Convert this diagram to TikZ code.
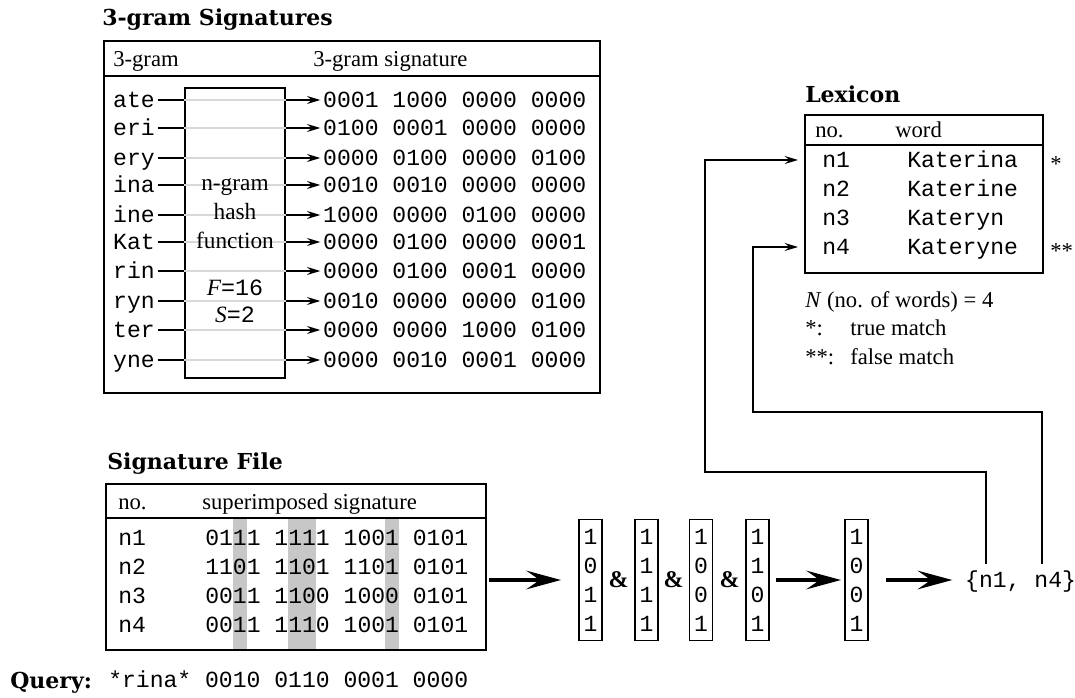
\documentclass[tikz,border=0pt]{standalone}
\usepackage{fontspec}
\setmainfont{Liberation Serif}
\newfontfamily\monofont{Liberation Mono}
\newfontfamily\headfont{DejaVu Serif}
\usetikzlibrary{arrows.meta}

\begin{document}
\begin{tikzpicture}[x=0.75pt,y=-0.75pt,
	mono_node/.style={font=\monofont\fontsize{17.3}{21.75}\selectfont,anchor=west,inner sep=0pt,text height=11.4pt,text depth=0pt},
	row_node/.style={mono_node,inner xsep=2pt},
	serif_node/.style={font=\fontsize{17}{21.75}\selectfont,anchor=west,inner sep=0pt,text height=11.4pt,text depth=0pt},
	title_node/.style={font=\headfont\bfseries\fontsize{16.5}{19}\selectfont,anchor=west,inner sep=0pt,text height=12pt,text depth=0pt},
	box_line/.style={line width=1.2pt},
	box_node/.style={draw,line width=1.2pt,inner sep=0pt},
	gray_line/.style={draw=black!15,line width=1pt},
	small_arrow/.style={line width=1pt,-{Stealth[length=10pt,width=6pt,inset=3.5pt]}},
	big_arrow/.style={line width=2.4pt,-{Stealth[length=26pt,width=14pt,inset=10pt]}},
	bit_col/.style={draw,line width=1.2pt,inner sep=0pt,minimum width=17.5pt,minimum height=90.75pt,align=center,font=\monofont\fontsize{17.3}{21.75}\selectfont},
	amp_node/.style={font=\bfseries\fontsize{18}{20}\selectfont,inner sep=0pt}]
	\useasboundingbox (0,0) rectangle (1075,698);

	\node[title_node] (t_gram) at (102,18) {3-gram Signatures};
	\draw[box_line] (104,41) rectangle (600,393);
	\draw[box_line] (104,76) -- (600,76);
	\node[serif_node] (h_gram) at (113,59) {3-gram};
	\node[serif_node] (h_sig) at (313,59) {3-gram signature};
	\node[box_node,minimum width=75pt,minimum height=217.5pt] (hash) at (235,233) {};

	\node[row_node] (g1) at (110.3,100) {ate};
	\node[row_node] (g2) at (110.3,128) {eri};
	\node[row_node] (g3) at (110.3,158) {ery};
	\node[row_node] (g4) at (110.3,185) {ina};
	\node[row_node] (g5) at (110.3,215) {ine};
	\node[row_node] (g6) at (110.3,242) {Kat};
	\node[row_node] (g7) at (110.3,271) {rin};
	\node[row_node] (g8) at (110.3,301) {ryn};
	\node[row_node] (g9) at (110.3,330) {ter};
	\node[row_node] (g10) at (110.3,360) {yne};

	\node[row_node] (s1) at (320.3,100) {0001 1000 0000 0000};
	\node[row_node] (s2) at (320.3,128) {0100 0001 0000 0000};
	\node[row_node] (s3) at (320.3,158) {0000 0100 0000 0100};
	\node[row_node] (s4) at (320.3,185) {0010 0010 0000 0000};
	\node[row_node] (s5) at (320.3,215) {1000 0000 0100 0000};
	\node[row_node] (s6) at (320.3,242) {0000 0100 0000 0001};
	\node[row_node] (s7) at (320.3,271) {0000 0100 0001 0000};
	\node[row_node] (s8) at (320.3,301) {0010 0000 0000 0100};
	\node[row_node] (s9) at (320.3,330) {0000 0000 1000 0100};
	\node[row_node] (s10) at (320.3,360) {0000 0010 0001 0000};

	\draw[box_line] (g1) -- (g1 -| hash.west) edge[gray_line] (s1 -| hash.east);
	\draw[box_line] (g2) -- (g2 -| hash.west) edge[gray_line] (s2 -| hash.east);
	\draw[box_line] (g3) -- (g3 -| hash.west) edge[gray_line] (s3 -| hash.east);
	\draw[box_line] (g4) -- (g4 -| hash.west) edge[gray_line] (s4 -| hash.east);
	\draw[box_line] (g5) -- (g5 -| hash.west) edge[gray_line] (s5 -| hash.east);
	\draw[box_line] (g6) -- (g6 -| hash.west) edge[gray_line] (s6 -| hash.east);
	\draw[box_line] (g7) -- (g7 -| hash.west) edge[gray_line] (s7 -| hash.east);
	\draw[box_line] (g8) -- (g8 -| hash.west) edge[gray_line] (s8 -| hash.east);
	\draw[box_line] (g9) -- (g9 -| hash.west) edge[gray_line] (s9 -| hash.east);
	\draw[box_line] (g10) -- (g10 -| hash.west) edge[gray_line] (s10 -| hash.east);
	\draw[small_arrow] (s1 -| hash.east) -- (s1);
	\draw[small_arrow] (s2 -| hash.east) -- (s2);
	\draw[small_arrow] (s3 -| hash.east) -- (s3);
	\draw[small_arrow] (s4 -| hash.east) -- (s4);
	\draw[small_arrow] (s5 -| hash.east) -- (s5);
	\draw[small_arrow] (s6 -| hash.east) -- (s6);
	\draw[small_arrow] (s7 -| hash.east) -- (s7);
	\draw[small_arrow] (s8 -| hash.east) -- (s8);
	\draw[small_arrow] (s9 -| hash.east) -- (s9);
	\draw[small_arrow] (s10 -| hash.east) -- (s10);

	\node[font=\fontsize{17.5}{21.75}\selectfont,align=center,inner sep=0pt] (hash_txt) at (235,214) {n-gram\\hash\\function};
	\node[font=\fontsize{17.5}{20.25}\selectfont,align=center,inner sep=0pt] (hash_par) at (235,301.5) {\textit{F}{\monofont =16}\\\textit{S}{\monofont =2}};

	\node[title_node] (t_file) at (107,462) {Signature File};
	\fill[black!22] (232.7,518) rectangle (246.5,650);
	\fill[black!22] (288,518) rectangle (315.7,650);
	\fill[black!22] (385,518) rectangle (398.9,650);
	\node[box_node,minimum width=285pt,minimum height=124.5pt] (sigfile) at (296,567) {};
	\draw[box_line] (106,518) -- (486,518);
	\node[serif_node] (h_no) at (118,502) {no.};
	\node[serif_node] (h_sup) at (202,502) {superimposed signature};
	\node[mono_node] (f1) at (118,538) {n1};
	\node[mono_node] (f2) at (118,567) {n2};
	\node[mono_node] (f3) at (118,596) {n3};
	\node[mono_node] (f4) at (118,625) {n4};
	\node[mono_node] (b1) at (205,538) {0111 1111 1001 0101};
	\node[mono_node] (b2) at (205,567) {1101 1101 1101 0101};
	\node[mono_node] (b3) at (205,596) {0011 1100 1000 0101};
	\node[mono_node] (b4) at (205,625) {0011 1110 1001 0101};

	\node[title_node] (q_lab) at (10,680) {Query:};
	\node[mono_node] (query) at (108,680) {*rina* 0010 0110 0001 0000};

	\node[bit_col] (c1) at (590.5,580) {1\\0\\1\\1};
	\node[amp_node] (a1) at (618.5,580) {\&};
	\node[bit_col] (c2) at (646.5,580) {1\\1\\1\\1};
	\node[amp_node] (a2) at (673.5,580) {\&};
	\node[bit_col] (c3) at (701,580) {1\\0\\0\\1};
	\node[amp_node] (a3) at (729.5,580) {\&};
	\node[bit_col] (c4) at (757.5,580) {1\\1\\0\\1};
	\node[bit_col] (r) at (856.5,580) {1\\0\\0\\1};
	\node[row_node] (res) at (962.3,580) {\{n1, n4\}};

	\draw[big_arrow,shorten <=1.5pt,shorten >=12.75pt] (sigfile.east |- c1.west) -- (c1.west);
	\draw[big_arrow,shorten <=4.5pt,shorten >=2.25pt] (c4) -- (r);
	\draw[big_arrow,shorten <=12.75pt,shorten >=7.5pt] (r) -- (res);

	\node[title_node] (t_lex) at (805,95) {Lexicon};
	\draw[box_line] (805,115) rectangle (1043,273);
	\draw[box_line] (805,145) -- (1043,145);
	\node[serif_node] (h_no2) at (815,130) {no.};
	\node[serif_node] (h_word) at (895,130) {word};
	\node[mono_node] (l1) at (822,160) {n1};
	\node[mono_node] (l2) at (822,189) {n2};
	\node[mono_node] (l3) at (822,218) {n3};
	\node[mono_node] (l4) at (822,247) {n4};
	\node[mono_node] (w1) at (907,160) {Katerina};
	\node[mono_node] (w2) at (907,189) {Katerine};
	\node[mono_node] (w3) at (907,218) {Kateryn};
	\node[mono_node] (w4) at (907,247) {Kateryne};
	\node[serif_node] (m1) at (1050,164) {*};
	\node[serif_node] (m4) at (1050,251) {**};
	\node[serif_node] (leg1) at (805,300) {\textit{N} (no. of words) = 4};
	\node[serif_node] (leg2) at (805,328) {\makebox[33.75pt][l]{*:}true match};
	\node[serif_node] (leg3) at (805,357) {\makebox[33.75pt][l]{**:}false match};

	\draw[small_arrow,shorten >=18pt] ([xshift=17.8pt,yshift=6.3pt]res.north west) |- (705,472) |- (l1.west);
	\draw[small_arrow,shorten >=18pt] ([xshift=59.8pt,yshift=6.3pt]res.north west) |- (753,412) |- (l4.west);
\end{tikzpicture}
\end{document}
